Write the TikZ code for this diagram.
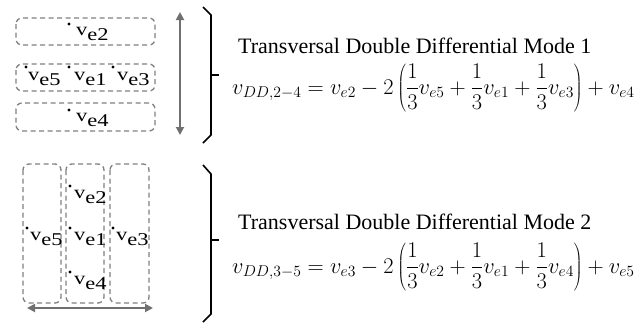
\RequirePackage{fix-cm}
\documentclass[tikz,border=0pt]{standalone}
\usepackage{fontspec}
\setmainfont{Liberation Serif}
\usetikzlibrary{arrows.meta}
\definecolor{boxgray}{HTML}{808080}
\definecolor{arrgray}{HTML}{707070}
\newcommand\elab[1]{\scalebox{1.25}[1]{v\raisebox{-0.28em}{#1}}}
\begin{document}
\begin{tikzpicture}[x=1pt,y=-1pt,
  dbox/.style={draw=boxgray, line width=1.3pt, dash pattern=on 5pt off 3.5pt, rounded corners=6pt},
  edot/.style={circle, fill=black, inner sep=0pt, minimum size=3.2pt},
  elbl/.style={anchor=base west, inner sep=0pt, font=\fontsize{18}{21}\selectfont},
  darrow/.style={draw=arrgray, line width=1.8pt, {Triangle[length=8pt,width=8pt]}-{Triangle[length=8pt,width=8pt]}},
  brace/.style={draw=black, line width=1.6pt},
  title/.style={anchor=base west, inner sep=0pt, font=\fontsize{22}{26}\selectfont},
  eqn/.style={anchor=base west, inner sep=0pt, font=\fontsize{22.4}{27}\selectfont}]
\useasboundingbox (0,0) rectangle (642,325);
% ---------- Mode 1 ----------
\draw[dbox] (16,18) rectangle (155,45);
\draw[dbox] (16,64) rectangle (155,91);
\draw[dbox] (16,103) rectangle (155,131);
\node[edot] (a2) at (69,24) {};
\node[edot] (a5) at (26,67) {};
\node[edot] (a1) at (69,67) {};
\node[edot] (a3) at (113,67) {};
\node[edot] (a4) at (69,110) {};
\node[elbl] (la2) at (76,35) {\elab{e2}};
\node[elbl] (la5) at (28,80) {\elab{e5}};
\node[elbl] (la1) at (74,80) {\elab{e1}};
\node[elbl] (la3) at (117,80) {\elab{e3}};
\node[elbl] (la4) at (76,121) {\elab{e4}};
\coordinate (u1) at (180,12);
\coordinate (u2) at (180,135);
\draw[darrow] (u1) -- (u2);
\coordinate (b1a) at (203,7);
\coordinate (b1b) at (211,15);
\coordinate (b1c) at (211,135);
\coordinate (b1d) at (203,143);
\coordinate (b1m) at (211,75);
\coordinate (b1t) at (219,75);
\draw[brace] (b1a) -- (b1b) -- (b1c) -- (b1d);
\draw[brace] (b1m) -- (b1t);
\node[title] (t1) at (238,53) {Transversal Double Differential Mode 1};
\node[eqn] (e1) at (232,94) {$\displaystyle v_{DD,2-4}=v_{e2}-2\left(\frac{1}{3}v_{e5}+\frac{1}{3}v_{e1}+\frac{1}{3}v_{e3}\right)+v_{e4}$};
% ---------- Mode 2 ----------
\draw[dbox] (23,164) rectangle (61,303);
\draw[dbox] (66,164) rectangle (104,303);
\draw[dbox] (110,164) rectangle (149,303);
\node[edot] (c5) at (27,228) {};
\node[edot] (c2) at (70,186) {};
\node[edot] (c1) at (70,228) {};
\node[edot] (c4) at (70,272) {};
\node[edot] (c3) at (113,228) {};
\node[elbl] (lc5) at (30,240) {\elab{e5}};
\node[elbl] (lc2) at (74,198) {\elab{e2}};
\node[elbl] (lc1) at (74,240) {\elab{e1}};
\node[elbl] (lc4) at (74,284) {\elab{e4}};
\node[elbl] (lc3) at (116,240) {\elab{e3}};
\coordinate (h1) at (27,308);
\coordinate (h2) at (153,308);
\draw[darrow] (h1) -- (h2);
\coordinate (b2a) at (203,165);
\coordinate (b2b) at (211,174);
\coordinate (b2c) at (211,314);
\coordinate (b2d) at (203,322);
\coordinate (b2m) at (211,240);
\coordinate (b2t) at (219,240);
\draw[brace] (b2a) -- (b2b) -- (b2c) -- (b2d);
\draw[brace] (b2m) -- (b2t);
\node[title] (t2) at (238,229) {Transversal Double Differential Mode 2};
\node[eqn] (e2) at (232,273) {$\displaystyle v_{DD,3-5}=v_{e3}-2\left(\frac{1}{3}v_{e2}+\frac{1}{3}v_{e1}+\frac{1}{3}v_{e4}\right)+v_{e5}$};
\end{tikzpicture}
\end{document}
